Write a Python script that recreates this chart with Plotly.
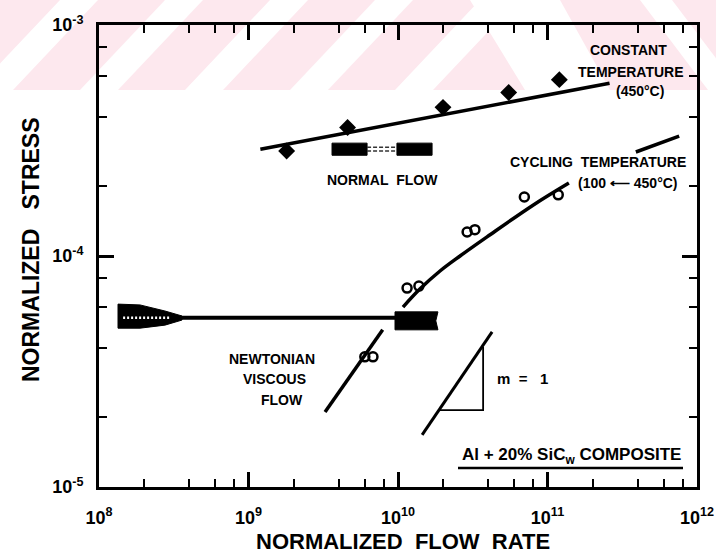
import plotly.graph_objects as go

# ---------------- data ----------------
# Constant temperature (450°C) tests
ct_rate = [1.8e9, 4.6e9, 2.0e10, 5.5e10, 1.2e11]
ct_stress = [2.85e-4, 3.6e-4, 4.4e-4, 5.1e-4, 5.8e-4]
ct_fit_rate = [1.2e9, 2.6e11]
ct_fit_stress = [2.9e-4, 5.6e-4]

# Normal flow band (two blocks joined by a dashed link)
nf_block_rate = [[3.62e9, 6.21e9], [9.84e9, 1.69e10]]
nf_block_stress = [2.73e-4, 3.08e-4]
nf_link_stress = [2.85e-4, 2.96e-4]

# Cycling temperature (100 <-> 450°C) tests
cy_rate = [6.0e9, 6.8e9, 1.15e10, 1.38e10, 2.9e10, 3.27e10, 7.0e10, 1.18e11]
cy_stress = [3.66e-5, 3.66e-5, 7.26e-5, 7.41e-5, 1.27e-4, 1.30e-4, 1.80e-4, 1.84e-4]
cy_low_rate = [3.25e9, 7.9e9]
cy_low_stress = [2.11e-5, 4.8e-5]
cy_curve_rate = [1.08e10, 1.40e10, 1.91e10, 2.60e10, 3.94e10, 8.0e10, 1.39e11]
cy_curve_stress = [6.01e-5, 7.19e-5, 8.61e-5, 1.0e-4, 1.21e-4, 1.66e-4, 2.07e-4]
cy_tail_rate = [3.9e11, 7.6e11]
cy_tail_stress = [2.82e-4, 3.30e-4]

# Newtonian viscous flow plateau
nv_rate = [1.34e8, 9.6e9]
nv_stress = [5.4e-5, 5.4e-5]
nv_band_rate = [1.34e8, 1.88e8, 2.76e8, 3.59e8, 3.59e8, 2.76e8, 1.88e8, 1.34e8]
nv_band_stress = [6.19e-5, 6.14e-5, 5.78e-5, 5.50e-5, 5.28e-5, 5.02e-5, 4.87e-5, 4.87e-5]
nv_hatch_rate = [1.45e8, 3.0e8]
nv_block_rate = [9.55e9, 1.85e10, 1.79e10, 1.85e10, 9.55e9]
nv_block_stress = [5.73e-5, 5.73e-5, 5.24e-5, 4.79e-5, 4.79e-5]

# Unit slope guide (m = 1)
slope_rate = [1.45e10, 4.26e10]
slope_stress = [1.68e-5, 4.69e-5]
tri_rate = [1.91e10, 3.71e10, 3.71e10]
tri_stress = [2.15e-5, 2.15e-5, 4.04e-5]

# axis ticks
rate_decades = [8, 9, 10, 11, 12]
rate_labels = ["10<sup>8</sup>", "10<sup>9</sup>", "10<sup>10</sup>",
               "10<sup>11</sup>", "10<sup>12</sup>"]
stress_decades = [-5, -4, -3]
stress_labels = ["10<sup>-5</sup>", "10<sup>-4</sup>", "10<sup>-3</sup>"]
minor_mult = [2, 4, 6, 8]

# ---------------- layout helpers ----------------
W, H = 716, 553
ML, MR, MT, MB = 99, 19, 25, 66
PW, PH = W - ML - MR, H - MT - MB

SANS = "Liberation Sans, Arial, sans-serif"
BLACK = "black"


def px(x):
    return (x - ML) / PW


def py(y):
    return (H - MB - y) / PH


def box(xs, ys):
    return [xs[0], xs[1], xs[1], xs[0], xs[0]], [ys[0], ys[0], ys[1], ys[1], ys[0]]


def minor_ticks(decades):
    """2,4,6,8 subdivisions inside each decade."""
    return [m * 10.0 ** d for d in decades[:-1] for m in minor_mult]


fig = go.Figure()

# constant temperature
fig.add_trace(go.Scatter(x=ct_fit_rate, y=ct_fit_stress, mode="lines",
                         line=dict(color=BLACK, width=3.5)))
fig.add_trace(go.Scatter(x=ct_rate, y=ct_stress, mode="markers",
                         marker=dict(symbol="diamond", size=13, color=BLACK)))

# normal flow blocks
for blk in nf_block_rate:
    bx, by = box(blk, nf_block_stress)
    fig.add_trace(go.Scatter(x=bx, y=by, mode="lines", fill="toself",
                             fillcolor=BLACK, line=dict(color=BLACK, width=1)))
for s in nf_link_stress:
    fig.add_trace(go.Scatter(x=[nf_block_rate[0][1], nf_block_rate[1][0]], y=[s, s],
                             mode="lines", line=dict(color="#333", width=1.5, dash="4px,2px")))

# Newtonian plateau
fig.add_trace(go.Scatter(x=nv_rate, y=nv_stress, mode="lines",
                         line=dict(color=BLACK, width=4)))
fig.add_trace(go.Scatter(x=nv_band_rate + nv_band_rate[:1], y=nv_band_stress + nv_band_stress[:1],
                         mode="lines", fill="toself", fillcolor=BLACK,
                         line=dict(color=BLACK, width=1)))
fig.add_trace(go.Scatter(x=nv_hatch_rate, y=nv_stress, mode="lines",
                         line=dict(color="white", width=2.5, dash="2px,2px")))
fig.add_trace(go.Scatter(x=nv_block_rate + nv_block_rate[:1], y=nv_block_stress + nv_block_stress[:1],
                         mode="lines", fill="toself", fillcolor=BLACK,
                         line=dict(color=BLACK, width=1)))

# cycling temperature
for xs, ys in [(cy_low_rate, cy_low_stress), (cy_curve_rate, cy_curve_stress),
               (cy_tail_rate, cy_tail_stress)]:
    fig.add_trace(go.Scatter(x=xs, y=ys, mode="lines", line_shape="spline",
                             line=dict(color=BLACK, width=3.5)))
fig.add_trace(go.Scatter(x=cy_rate, y=cy_stress, mode="markers",
                         marker=dict(symbol="circle-open", size=9, color=BLACK,
                                     line=dict(width=2.5, color=BLACK))))

# slope guide
fig.add_trace(go.Scatter(x=slope_rate, y=slope_stress, mode="lines",
                         line=dict(color=BLACK, width=3)))
fig.add_trace(go.Scatter(x=tri_rate, y=tri_stress, mode="lines",
                         line=dict(color=BLACK, width=1.8)))

# anchor trace for the overlay axes that carry the short subdivision ticks
fig.add_trace(go.Scatter(x=[1e9], y=[1e-4], xaxis="x2", yaxis="y2", mode="markers",
                         marker=dict(opacity=0), hoverinfo="skip"))

# ---------------- background tint band ----------------
PINK = "#fde8ee"
shapes = [dict(type="rect", xref="paper", yref="paper", layer="below",
               x0=px(0), x1=px(W), y0=py(90), y1=py(0),
               fillcolor=PINK, line=dict(width=0))]


def poly(points, color):
    path = "M " + " L ".join(f"{px(a):.4f},{py(b):.4f}" for a, b in points) + " Z"
    return dict(type="path", xref="paper", yref="paper", layer="below",
                path=path, fillcolor=color, line=dict(width=0))


for x0 in [-25, 80, 185, 290, 395]:
    shapes.append(poly([(x0, 90), (x0 + 38, 90), (x0 + 123, 0), (x0 + 85, 0)], "white"))
shapes.append(poly([(470, 0), (560, 0), (610, 90), (525, 90)], "white"))
shapes.append(poly([(640, 0), (672, 0), (740, 90), (708, 90)], "white"))

# underline of the material label
shapes.append(dict(type="line", xref="paper", yref="paper",
                   x0=px(458), x1=px(683), y0=py(468), y1=py(468),
                   line=dict(color=BLACK, width=2.5)))

# ---------------- text ----------------
ann = []


def label(text, x, y, size=14, **kw):
    ann.append(dict(text=text, x=px(x), y=py(y), xref="paper", yref="paper",
                    showarrow=False, xanchor="center", yanchor="middle",
                    font=dict(size=size, family=SANS, color=BLACK, weight="bold"), **kw))


label("CONSTANT", 628, 50)
label("TEMPERATURE", 631, 72)
label("(450°C)", 640, 91)
label("NORMAL\u00a0\u00a0FLOW", 382, 180)
label("CYCLING\u00a0\u00a0TEMPERATURE", 598, 162)
label("(100\u00a0⟵\u00a0450°C)", 628, 183)
label("NEWTONIAN", 272, 359)
label("VISCOUS", 274, 379)
label("FLOW", 282, 400)
label("m\u00a0\u00a0=\u00a0\u00a0\u00a01", 522, 378, size=15)
label("Al + 20% SiC<sub>w</sub> COMPOSITE", 571, 456, size=17)
label("NORMALIZED\u00a0\u00a0FLOW\u00a0\u00a0RATE", 403, 541, size=22)
label("NORMALIZED\u00a0\u00a0\u00a0STRESS", 31, 250, size=23, textangle=-90)

# ---------------- axes ----------------
tickfont = dict(size=18, family=SANS, color=BLACK, weight="bold")

common = dict(type="log", showline=True, linecolor=BLACK, linewidth=3,
              mirror="ticks", ticks="inside", tickcolor=BLACK, automargin=False,
              showgrid=False, zeroline=False, tickmode="array")

fig.update_layout(
    width=W, height=H,
    margin=dict(l=ML, r=MR, t=MT, b=MB, pad=0, autoexpand=False),
    paper_bgcolor="white", plot_bgcolor="rgba(0,0,0,0)",
    showlegend=False,
    shapes=shapes, annotations=ann,
    xaxis=dict(range=[8, 12], tickvals=[10.0 ** d for d in rate_decades], ticktext=rate_labels,
               ticklen=15, tickwidth=2.5, tickfont=tickfont, ticklabelstandoff=12,
               ticklabeloverflow="allow", **common),
    yaxis=dict(range=[-5, -3], tickvals=[10.0 ** d for d in stress_decades], ticktext=stress_labels,
               ticklen=15, tickwidth=2.5, tickfont=tickfont, ticklabelstandoff=9,
               ticklabeloverflow="allow", **common),
    xaxis2=dict(range=[8, 12], overlaying="x", anchor="y2", side="bottom",
                tickvals=minor_ticks(rate_decades), ticklen=8, tickwidth=2,
                showticklabels=False, **common),
    yaxis2=dict(range=[-5, -3], overlaying="y", anchor="x2", side="left",
                tickvals=minor_ticks(stress_decades), ticklen=8, tickwidth=2,
                showticklabels=False, **common),
)

fig.write_html("out.html")
